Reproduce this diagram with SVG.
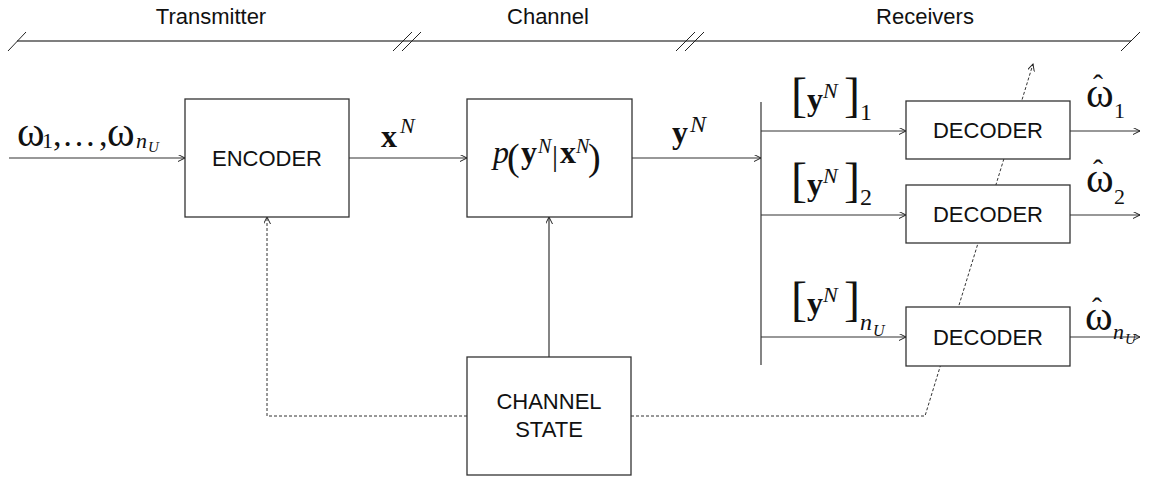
<svg xmlns="http://www.w3.org/2000/svg" width="1150" height="477" viewBox="0 0 1150 477">
<defs>
<marker id="ah" markerWidth="8" markerHeight="8" refX="7" refY="3.5" orient="auto" markerUnits="userSpaceOnUse">
<path d="M0,0 L7,3.5 L0,7" fill="none" stroke="#222" stroke-width="1"/>
</marker>
<style>
.hdr{font-family:"Liberation Sans",Arial,sans-serif;font-size:22px;fill:#111;text-anchor:middle}
.lbl{font-family:"Liberation Sans",Arial,sans-serif;font-size:22px;fill:#111;text-anchor:middle}
.box{fill:#fff;stroke:#333;stroke-width:1.3}
.ln{fill:none;stroke:#333;stroke-width:1.2}
.dash{fill:none;stroke:#333;stroke-width:1;stroke-dasharray:3 2}
.m{font-family:"Liberation Serif","Times New Roman",serif;fill:#111}
.b{font-weight:bold}
.i{font-style:italic}
.w{font-size:42px}
.hat{font-size:30px;text-anchor:middle}
.br{font-size:48px}
</style>
</defs>
<rect width="1150" height="477" fill="#fff"/>
<g id="header">
<line x1="17" y1="41" x2="1131" y2="41" stroke="#555" stroke-width="1.5"/>
<g stroke="#222" stroke-width="1">
<line x1="8" y1="51" x2="26" y2="32"/>
<line x1="393" y1="51" x2="412" y2="32"/>
<line x1="402" y1="51" x2="421" y2="32"/>
<line x1="676" y1="51" x2="695" y2="32"/>
<line x1="685" y1="51" x2="704" y2="32"/>
<line x1="1121" y1="51" x2="1140" y2="32"/>
</g>
<text class="hdr" x="211" y="24">Transmitter</text>
<text class="hdr" x="548" y="24">Channel</text>
<text class="hdr" x="925" y="24">Receivers</text>
</g>
<g id="connectors">
<line class="ln" x1="9" y1="158" x2="185" y2="158" marker-end="url(#ah)"/>
<line class="ln" x1="349" y1="158" x2="467" y2="158" marker-end="url(#ah)"/>
<line class="ln" x1="632" y1="158" x2="761" y2="158" marker-end="url(#ah)"/>
<line class="ln" x1="761" y1="102" x2="761" y2="365"/>
<line class="ln" x1="761" y1="131" x2="906" y2="131" marker-end="url(#ah)"/>
<line class="ln" x1="761" y1="215" x2="906" y2="215" marker-end="url(#ah)"/>
<line class="ln" x1="761" y1="337" x2="906" y2="337" marker-end="url(#ah)"/>
<line class="ln" x1="1070" y1="131" x2="1140" y2="131" marker-end="url(#ah)"/>
<line class="ln" x1="1070" y1="215" x2="1140" y2="215" marker-end="url(#ah)"/>
<line class="ln" x1="1070" y1="337" x2="1140" y2="337" marker-end="url(#ah)"/>
<line class="ln" x1="549" y1="357" x2="549" y2="217" marker-end="url(#ah)"/>
<path class="dash" d="M467,416 H267 V217" marker-end="url(#ah)"/>
<path class="dash" d="M631,416 H925 L1033,64" marker-end="url(#ah)"/>
</g>
<g id="encoder">
<rect class="box" x="185" y="99" width="164" height="118"/>
<text class="lbl" x="267" y="166">ENCODER</text>
</g>
<g id="channel">
<rect class="box" x="467" y="99" width="165" height="118"/>
<text class="m i" x="493" y="163" font-size="32">p</text>
<text class="m" x="507" y="170" font-size="38">(</text>
<text class="m b" x="521" y="163" font-size="32">y</text>
<text class="m i" x="538" y="153" font-size="20">N</text>
<text class="m" x="552" y="166" font-size="30">|</text>
<text class="m b" x="560" y="163" font-size="32">x</text>
<text class="m i" x="576" y="153" font-size="20">N</text>
<text class="m" x="588" y="170" font-size="38">)</text>
</g>
<g id="channel-state">
<rect class="box" x="467" y="357" width="164" height="118"/>
<text class="lbl" x="549" y="409">CHANNEL</text>
<text class="lbl" x="549" y="437">STATE</text>
</g>
<g id="decoder-1">
<rect class="box" x="906" y="101" width="164" height="58"/>
<text class="lbl" x="988" y="138">DECODER</text>
</g>
<g id="decoder-2">
<rect class="box" x="906" y="185" width="164" height="58"/>
<text class="lbl" x="988" y="222">DECODER</text>
</g>
<g id="decoder-3">
<rect class="box" x="906" y="307" width="164" height="59"/>
<text class="lbl" x="988" y="345">DECODER</text>
</g>
<g id="labels">
<g id="input-label">
<text class="m w" x="17" y="146">ω</text>
<text class="m" x="42" y="148" font-size="22">1</text>
<text class="m" x="53" y="146" font-size="34">,</text>
<text class="m" x="62" y="146" font-size="34">…</text>
<text class="m" x="99" y="146" font-size="34">,</text>
<text class="m w" x="107" y="146">ω</text>
<text class="m i" x="136" y="148" font-size="22">n</text>
<text class="m i" x="148" y="152" font-size="15">U</text>
</g>
<g id="xN">
<text class="m b" x="381" y="147" font-size="32">x</text>
<text class="m i" x="400" y="133" font-size="22">N</text>
</g>
<g id="yN">
<text class="m b" x="672" y="143" font-size="32">y</text>
<text class="m i" x="690" y="132" font-size="24">N</text>
</g>
<g id="y1">
<text class="m br" x="791" y="111">[</text>
<text class="m b" x="807" y="110" font-size="32">y</text>
<text class="m i" x="823" y="98" font-size="22">N</text>
<text class="m br" x="844" y="111">]</text>
<text class="m" x="860" y="120" font-size="24">1</text>
</g>
<g id="y2">
<text class="m br" x="791" y="196">[</text>
<text class="m b" x="807" y="195" font-size="32">y</text>
<text class="m i" x="823" y="183" font-size="22">N</text>
<text class="m br" x="844" y="196">]</text>
<text class="m" x="860" y="205" font-size="24">2</text>
</g>
<g id="y3">
<text class="m br" x="791" y="315">[</text>
<text class="m b" x="807" y="314" font-size="32">y</text>
<text class="m i" x="823" y="302" font-size="22">N</text>
<text class="m br" x="844" y="315">]</text>
<text class="m i" x="860" y="330" font-size="24">n</text>
<text class="m i" x="873" y="336" font-size="16">U</text>
</g>
<g id="w1">
<text class="m w" x="1086" y="107">ω</text>
<text class="m hat" x="1098" y="95">ˆ</text>
<text class="m" x="1114" y="118" font-size="22">1</text>
</g>
<g id="w2">
<text class="m w" x="1086" y="192">ω</text>
<text class="m hat" x="1098" y="180">ˆ</text>
<text class="m" x="1114" y="204" font-size="22">2</text>
</g>
<g id="w3">
<text class="m w" x="1085" y="330">ω</text>
<text class="m hat" x="1097" y="318">ˆ</text>
<text class="m i" x="1113" y="339" font-size="22">n</text>
<text class="m i" x="1125" y="344" font-size="15">U</text>
</g>
</g>
</svg>
